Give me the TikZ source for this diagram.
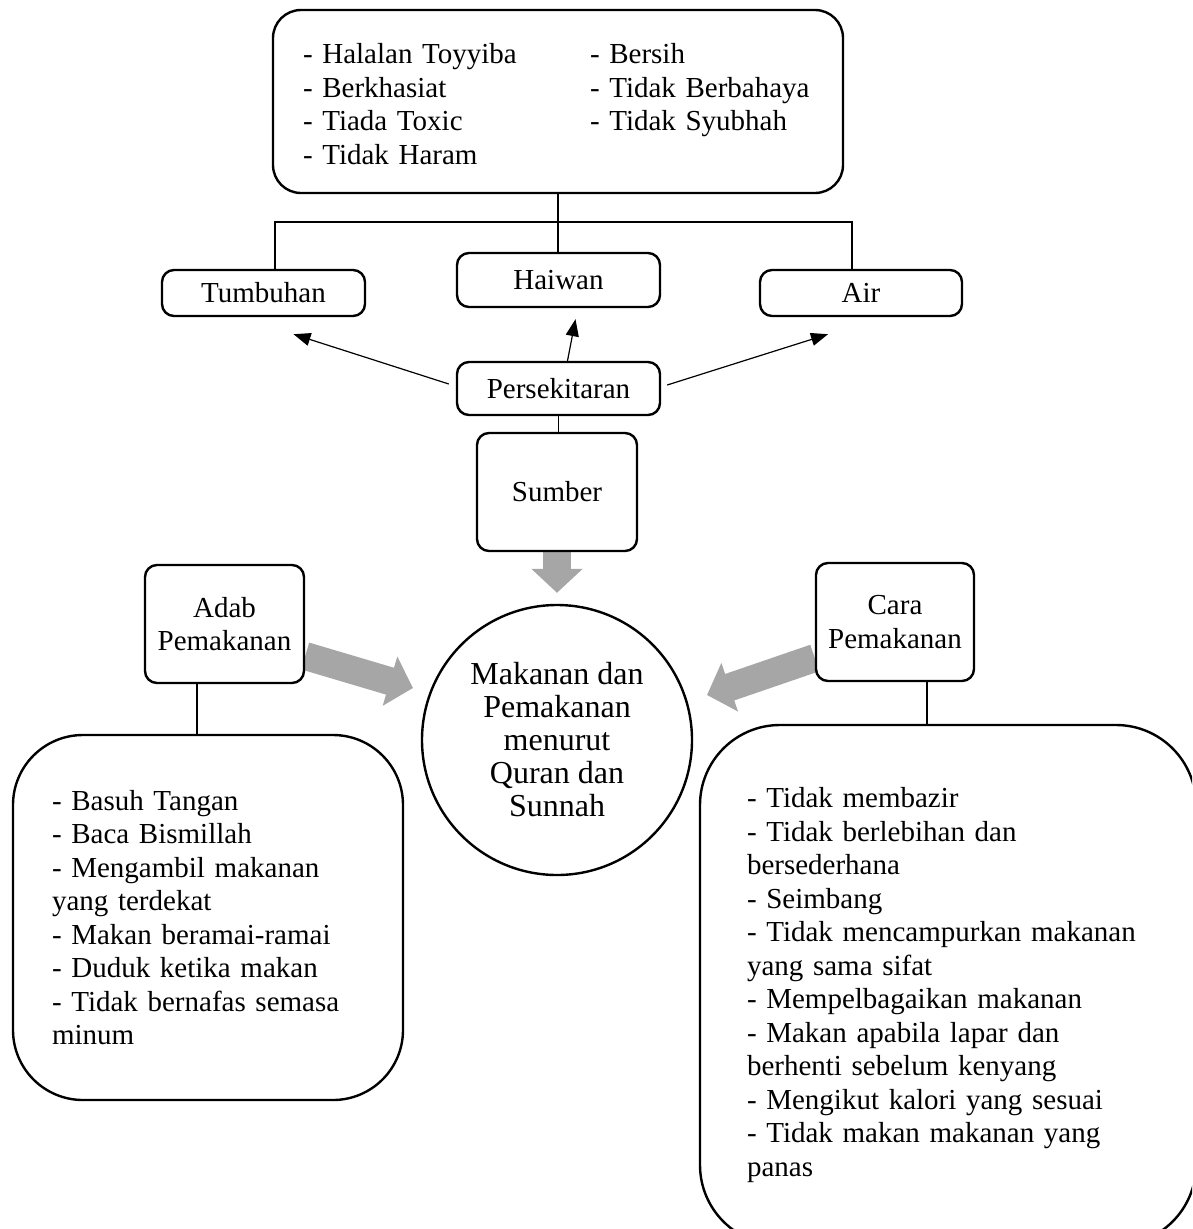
\documentclass[tikz,border=0pt]{standalone}
\usepackage{fontspec}
\setmainfont{Liberation Serif}
\usetikzlibrary{arrows.meta,calc}
\definecolor{arrowgray}{HTML}{A6A6A6}
\pgfdeclarelayer{background}
\pgfsetlayers{background,main}
\begin{document}
\begin{tikzpicture}[x=1pt,y=-1pt,
  every node/.style={font=\fontsize{29}{33.5}\selectfont},
  box/.style={draw, fill=white, line width=2.4pt, rounded corners=12pt, align=center, inner sep=0pt},
  link/.style={line width=1.2pt},
  arr/.style={line width=1.2pt, -{Triangle[length=17pt,width=13pt]}},
  garrow/.style={line width=28pt, draw=arrowgray, -{Triangle[length=24pt,width=50pt]}}]
\useasboundingbox (0,0) rectangle (1192,1229);
\clip (0,0) rectangle (1192,1229);

\node[box, rounded corners=28pt, minimum height=183pt, text width=510pt, inner xsep=30pt, align=left] (crit) at (558,101.5)
  {\vspace*{-12pt}\begin{tabular}{@{}p{287pt}@{}l@{}}
  - Halalan Toyyiba & - Bersih\\
  - Berkhasiat & - Tidak Berbahaya\\
  - Tiada Toxic & - Tidak Syubhah\\
  - Tidak Haram &
  \end{tabular}};

\node[box, minimum width=203pt, minimum height=46pt] (tumb) at (263.5,293) {Tumbuhan};
\node[box, minimum width=203pt, minimum height=54pt] (hai) at (558.5,280) {Haiwan};
\node[box, minimum width=202pt, minimum height=46pt] (air) at (861,293) {Air};
\node[box, minimum width=203pt, minimum height=53pt] (pers) at (558.5,388.5) {Persekitaran};
\node[box, minimum width=160pt, minimum height=118pt] (sumber) at (557,492) {Sumber};
\node[draw, fill=white, circle, line width=2.4pt, minimum size=270pt, inner sep=0pt, align=center,
      font=\fontsize{32}{33}\selectfont] (circ) at (557,740)
  {Makanan dan\\Pemakanan\\menurut\\Quran dan\\Sunnah};
\node[box, minimum width=159pt, minimum height=118pt] (adab) at (224.5,624) {Adab\\Pemakanan};
\node[box, minimum width=158pt, minimum height=118pt] (cara) at (895,622) {Cara\\Pemakanan};

\node[box, rounded corners=70pt, text width=312pt, inner xsep=39pt, minimum height=365pt, align=left] (adablist) at (208,917.5)
  {- Basuh Tangan\\
   - Baca Bismillah\\
   - Mengambil makanan\\
   yang terdekat\\
   - Makan beramai-ramai\\
   - Duduk ketika makan\\
   - Tidak bernafas semasa\\
   minum};

\node[box, rounded corners=80pt, text width=402pt, inner xsep=47pt, minimum height=520pt, align=left] (caralist) at (948,985)
  {- Tidak membazir\\
   - Tidak berlebihan dan\\
   bersederhana\\
   - Seimbang\\
   - Tidak mencampurkan makanan\\
   yang sama sifat\\
   - Mempelbagaikan makanan\\
   - Makan apabila lapar dan\\
   berhenti sebelum kenyang\\
   - Mengikut kalori yang sesuai\\
   - Tidak makan makanan yang\\
   panas};

% tree connectors
\coordinate (tl) at (275,222);
\coordinate (tr) at (852,222);
\draw[link] (crit.south) -- (crit.south |- hai.north);
\draw[link] (tl |- tumb.north) -- (tl) -- (tr) -- (tr |- air.north);
\draw[link] (pers.south) -- (pers.south |- sumber.north);

\coordinate (al) at (197,700);
\draw[link] (al |- adab.south) -- (al |- adablist.north);
\coordinate (cl) at (927,700);
\draw[link] (cl |- cara.south) -- (cl |- caralist.north);

% arrows from Persekitaran
\draw[arr] ([xshift=-7pt,yshift=4.5pt]pers.west) -- ([xshift=30pt,yshift=-17pt]tumb.south);
\draw[arr] ([xshift=9pt]pers.north) -- ([xshift=17pt,yshift=-11pt]hai.south);
\draw[arr] ([xshift=6pt,yshift=3.5pt]pers.east) -- ([xshift=-33pt,yshift=-17pt]air.south);

% big grey arrows
\coordinate (atip) at (413,688);
\coordinate (ctip) at (707,695);
\begin{pgfonlayer}{background}
\draw[garrow, shorten >=11pt] (sumber.south) -- (circ.north);
\draw[garrow] ([yshift=-32pt]adab.east) -- (atip);
\draw[garrow] ([yshift=-36pt]cara.west) -- (ctip);
\end{pgfonlayer}
\end{tikzpicture}
\end{document}
